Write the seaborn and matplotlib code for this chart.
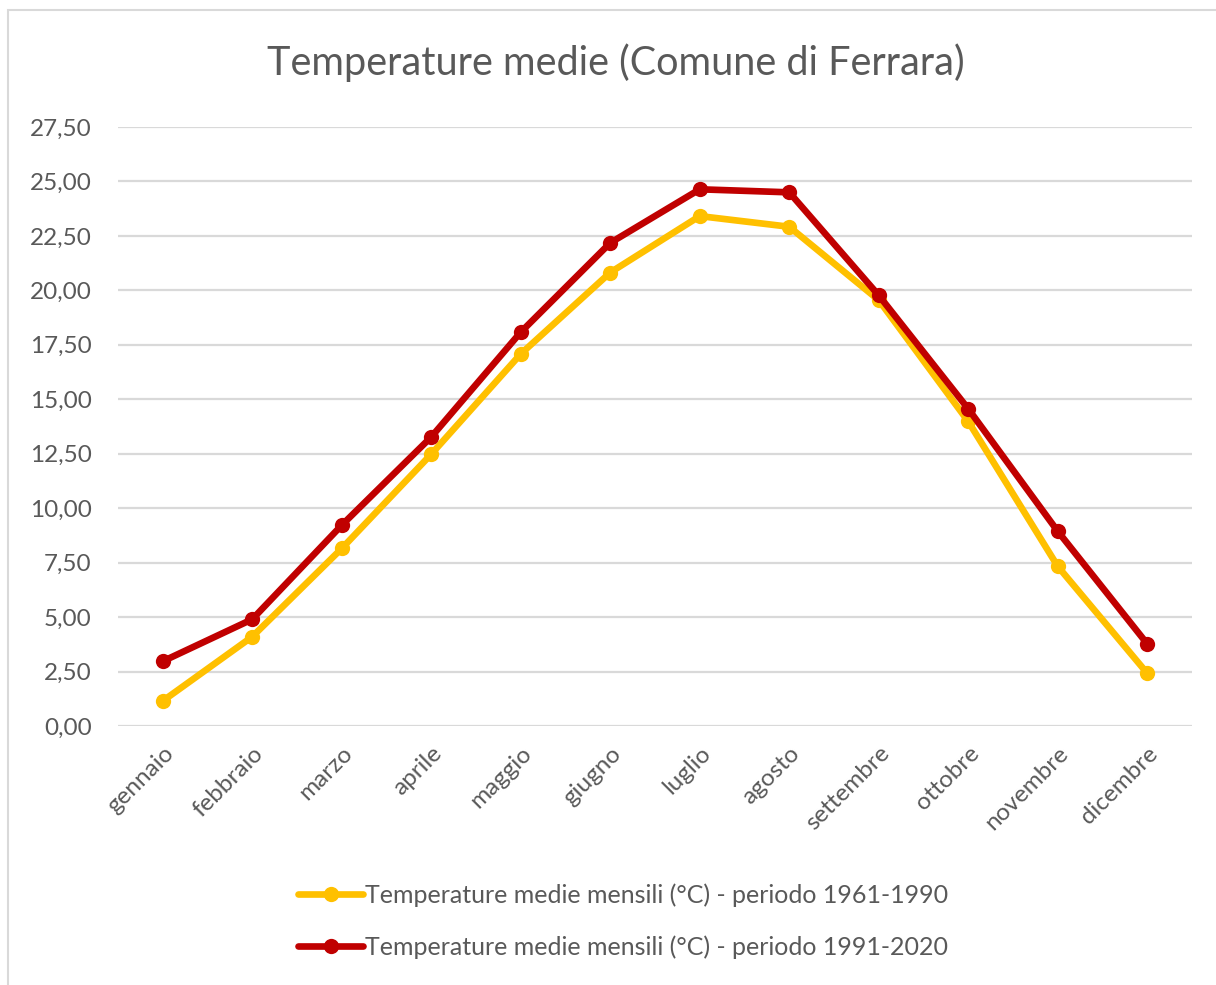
import pandas as pd
import seaborn as sns
from matplotlib import pyplot as plt
from matplotlib.patches import Rectangle

# data
mesi = ["gennaio", "febbraio", "marzo", "aprile", "maggio", "giugno",
        "luglio", "agosto", "settembre", "ottobre", "novembre", "dicembre"]
temp_1961_1990 = [1.15, 4.10, 8.15, 12.48, 17.08, 20.82, 23.41, 22.92, 19.55, 13.98, 7.33, 2.42]
temp_1991_2020 = [2.97, 4.90, 9.22, 13.27, 18.08, 22.18, 24.64, 24.50, 19.77, 14.56, 8.94, 3.77]
serie = ["Temperature medie mensili (°C) - periodo 1961-1990",
         "Temperature medie mensili (°C) - periodo 1991-2020"]
colori = ["#FFC000", "#C00000"]
y_ticks = [0, 2.5, 5, 7.5, 10, 12.5, 15, 17.5, 20, 22.5, 25, 27.5]

df = pd.DataFrame({
    "Mese": mesi * 2,
    "Temperatura": temp_1961_1990 + temp_1991_2020,
    "Serie": [serie[0]] * 12 + [serie[1]] * 12,
})

sns.set_style("white")
plt.rcParams["font.family"] = ["Lato", "DejaVu Sans"]
grigio = "#595959"

fig = plt.figure(figsize=(12.16, 9.85), dpi=100)
ax = fig.add_axes([118 / 1216, 1 - 726 / 985, 1074 / 1216, 599 / 985])

sns.lineplot(data=df, x="Mese", y="Temperatura", hue="Serie", palette=colori,
             marker="o", markersize=11, markeredgewidth=0, linewidth=4.8,
             sort=False, ax=ax, legend=True)

ax.set_xlim(-0.5, 11.5)
ax.set_ylim(0, 27.5)
ax.set_yticks(y_ticks)
ax.set_yticklabels([f"{v:.2f}".replace(".", ",") for v in y_ticks])
ax.set_xlabel("")
ax.set_ylabel("")
ax.grid(axis="y", color="#D9D9D9", linewidth=1.6)
ax.set_axisbelow(True)
for s in ax.spines.values():
    s.set_visible(False)
ax.tick_params(axis="y", length=0, pad=19, labelsize=17.5, labelcolor=grigio)
ax.tick_params(axis="x", length=0, pad=12, labelsize=17.5, labelcolor=grigio)
plt.setp(ax.get_xticklabels(), rotation=45, ha="right", rotation_mode="anchor")

handles, labels = ax.get_legend_handles_labels()
ax.get_legend().remove()
fig.legend(handles, labels, loc="center", bbox_to_anchor=(623 / 1216, 1 - 921 / 985),
           ncol=1, frameon=False, fontsize=18, labelcolor=grigio,
           handlelength=2.6, handletextpad=0.05, labelspacing=1.15, markerscale=1)

fig.suptitle("Temperature medie (Comune di Ferrara)", x=616 / 1216, y=1 - 63 / 985,
             va="center", fontsize=28.5, color=grigio)

# chart border
fig.patches.append(Rectangle((8 / 1216, -0.1), 1.2, 1 - 10 / 985 + 0.1,
                             transform=fig.transFigure, fill=False,
                             edgecolor="#D9D9D9", linewidth=1.5))

plt.savefig("out.png", dpi=100)
